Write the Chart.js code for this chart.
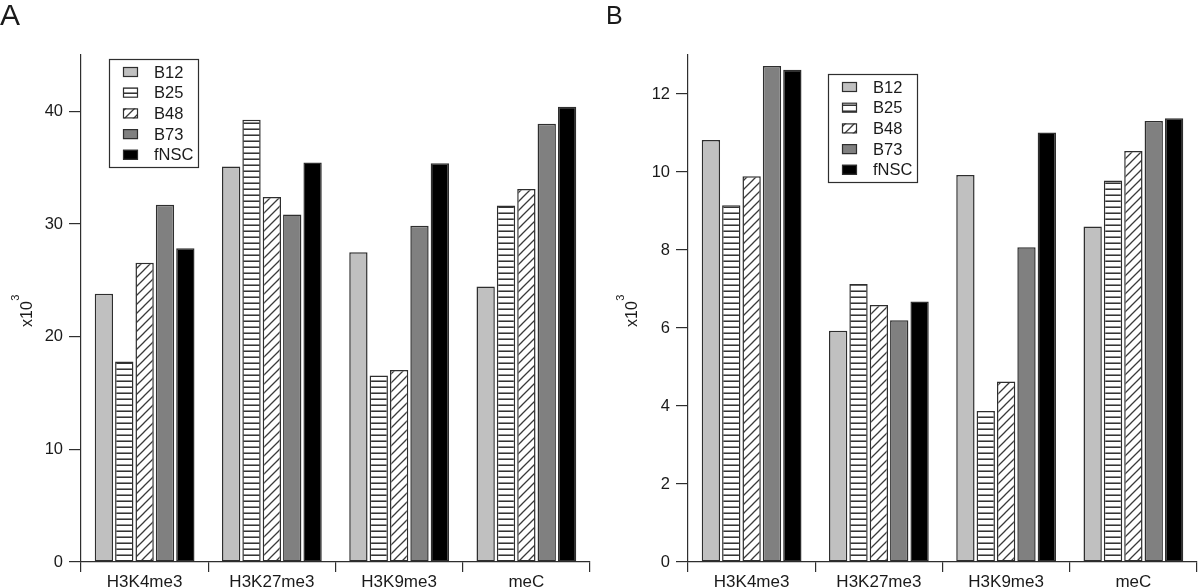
<!DOCTYPE html>
<html><head><meta charset="utf-8">
<script src="https://cdn.jsdelivr.net/npm/chart.js@4.4.0/dist/chart.umd.min.js"></script>
<style>
html,body{margin:0;padding:0;background:#fff;width:1200px;height:587px;overflow:hidden;}
canvas{position:absolute;top:0;}
#cA{left:0px;} #cB{left:600px;}
</style></head><body>
<canvas id="cA" width="600" height="587"></canvas>
<canvas id="cB" width="600" height="587"></canvas>
<script>
// ---- data ----
const categories = ['H3K4me3', 'H3K27me3', 'H3K9me3', 'meC'];
const seriesLabels = ['B12', 'B25', 'B48', 'B73', 'fNSC'];
const ticksA = [0, 10, 20, 30, 40];
const ticksB = [0, 2, 4, 6, 8, 10, 12];
// Panel A (x10^3)
const aB12  = [23.8, 35.1, 27.5, 24.45];
const aB25  = [17.8, 39.25, 16.55, 31.65];
const aB48  = [26.55, 32.4, 17.05, 33.1];
const aB73  = [31.7, 30.85, 29.85, 38.9];
const aFNSC = [27.85, 35.45, 35.4, 40.4];
// Panel B (x10^3)
const bB12  = [10.82, 5.93, 9.92, 8.6];
const bB25  = [9.15, 7.13, 3.87, 9.78];
const bB48  = [9.89, 6.59, 4.63, 10.54];
const bB73  = [12.72, 6.2, 8.07, 11.31];
const bFNSC = [12.62, 6.68, 11.01, 11.38];

const FONT = "'Liberation Sans', Arial, Helvetica, sans-serif";
const INK = '#1a1a1a';
const EDGE = '#2e2e2e';

function hPattern(ctx) {
  const c = document.createElement('canvas'); c.width = 6; c.height = 6;
  const g = c.getContext('2d');
  g.fillStyle = '#fff'; g.fillRect(0, 0, 6, 6);
  g.fillStyle = '#1e1e1e'; g.fillRect(0, 2.5, 6, 1.4);
  return ctx.createPattern(c, 'repeat');
}
function dPattern(ctx) {
  const s = 9;
  const c = document.createElement('canvas'); c.width = s; c.height = s;
  const g = c.getContext('2d');
  g.fillStyle = '#fff'; g.fillRect(0, 0, s, s);
  g.strokeStyle = '#3a3a3a'; g.lineWidth = 1.3;
  g.beginPath();
  g.moveTo(-1, s + 1); g.lineTo(s + 1, -1);
  g.moveTo(-1, 1); g.lineTo(1, -1);
  g.moveTo(s - 1, s + 1); g.lineTo(s + 1, s - 1);
  g.stroke();
  return ctx.createPattern(c, 'repeat');
}

const decorPlugin = {
  id: 'decor',
  afterDraw(chart, args, o) {
    const ctx = chart.ctx;
    ctx.save();
    // panel letter
    ctx.fillStyle = INK;
    ctx.textAlign = 'left'; ctx.textBaseline = 'alphabetic';
    ctx.font = o.letterSize + 'px ' + FONT;
    ctx.fillText(o.letter, o.letterX, o.letterY);
    // y axis title x10^3
    ctx.save();
    ctx.translate(o.titleX, o.titleY);
    ctx.rotate(-Math.PI / 2);
    ctx.font = '16px ' + FONT;
    ctx.fillText('x10', 0, 0);
    const w = ctx.measureText('x10').width;
    ctx.font = '11px ' + FONT;
    ctx.fillText('3', w + 0.5, -13);
    ctx.restore();
    // legend
    const lx = o.legX, ly = o.legY;
    ctx.strokeStyle = EDGE; ctx.lineWidth = 1.2;
    ctx.strokeRect(lx + 0.5, ly + 0.5, 89, 108);
    ctx.font = '16.5px ' + FONT;
    chart.data.datasets.forEach((ds, i) => {
      const sy = ly + 8 + i * 20.7;
      ctx.fillStyle = ds.backgroundColor;
      ctx.fillRect(lx + 14, sy, 15, 10);
      ctx.strokeStyle = EDGE; ctx.lineWidth = 1.2;
      ctx.strokeRect(lx + 14.5, sy + 0.5, 14, 9);
      ctx.fillStyle = INK;
      ctx.fillText(ds.label, lx + 45, ly + 18.5 + i * 20.7);
    });
    ctx.restore();
  }
};

function makeChart(id, series, ticks, yMax, yWidth, padRight, decor) {
  const canvas = document.getElementById(id);
  const ctx = canvas.getContext('2d');
  const fills = ['#c0c0c0', hPattern(ctx), dPattern(ctx), '#808080', '#000000'];
  return new Chart(ctx, {
    type: 'bar',
    data: {
      labels: categories,
      datasets: series.map((vals, i) => ({
        label: seriesLabels[i],
        data: vals,
        backgroundColor: fills[i],
        borderColor: EDGE,
        borderWidth: 1.5,
        borderSkipped: false,
        categoryPercentage: 0.8,
        barPercentage: 0.9
      }))
    },
    options: {
      responsive: false,
      animation: false,
      devicePixelRatio: 1,
      layout: { padding: { left: 0, right: padRight, top: 55, bottom: 0 } },
      plugins: { legend: { display: false }, tooltip: { enabled: false }, decor: decor },
      scales: {
        x: {
          type: 'category',
          offset: true,
          grid: { offset: true, drawOnChartArea: false, drawTicks: true, tickLength: 10, color: EDGE, lineWidth: 1.2 },
          border: { display: true, color: EDGE, width: 1.2 },
          ticks: { font: { family: FONT, size: 17 }, color: INK, padding: 0, maxRotation: 0, autoSkip: false },
          afterFit(s) { s.height = 25; }
        },
        y: {
          min: 0, max: yMax,
          afterBuildTicks(s) { s.ticks = ticks.map(v => ({ value: v })); },
          grid: { drawOnChartArea: false, drawTicks: true, tickLength: 12, color: EDGE, lineWidth: 1.2 },
          border: { display: true, color: EDGE, width: 1.2 },
          ticks: { font: { family: FONT, size: 16.5 }, color: INK, padding: 6 },
          afterFit(s) { s.width = yWidth; }
        }
      }
    },
    plugins: [decorPlugin]
  });
}

makeChart('cA', [aB12, aB25, aB48, aB73, aFNSC], ticksA, 45, 81, 10,
  { letter: 'A', letterSize: 30, letterX: 0, letterY: 25, titleX: 32, titleY: 327, legX: 109, legY: 59 });
makeChart('cB', [bB12, bB25, bB48, bB73, bFNSC], ticksB, 13, 88, 3,
  { letter: 'B', letterSize: 25, letterX: 6, letterY: 24, titleX: 37, titleY: 327, legX: 228, legY: 74 });
</script>
</body></html>
